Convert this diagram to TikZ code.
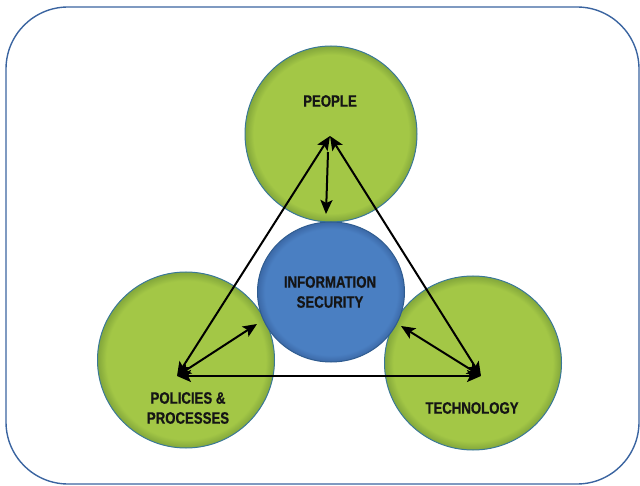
\documentclass[tikz,border=0pt]{standalone}
\usepackage{fontspec}
\setmainfont{Liberation Sans}[FakeStretch=0.8, BoldFeatures={FakeBold=0.7}]
\usetikzlibrary{shapes.geometric,arrows.meta}
\definecolor{gfill}{HTML}{A3C746}
\definecolor{grim}{HTML}{86AA3C}
\definecolor{gline}{HTML}{3A7897}
\definecolor{bfill}{HTML}{4A7FC2}
\definecolor{brim}{HTML}{3D6BAA}
\definecolor{bline}{HTML}{2F5C90}
\definecolor{frame}{HTML}{3A64A0}
\definecolor{txt}{HTML}{151515}
\pgfdeclareradialshading{greenball}{\pgfpoint{0bp}{0bp}}{color(0bp)=(gfill); color(22.5bp)=(gfill); color(24.7bp)=(grim); color(50bp)=(grim)}
\pgfdeclareradialshading{blueball}{\pgfpoint{0bp}{0bp}}{color(0bp)=(bfill); color(22.5bp)=(bfill); color(24.7bp)=(brim); color(50bp)=(brim)}
\tikzset{
  gball/.style={ellipse, inner sep=0pt, shading=greenball, draw=gline, line width=1pt},
  bball/.style={ellipse, inner sep=0pt, shading=blueball, draw=bline, line width=1pt},
  lbl/.style={font=\bfseries\fontsize{16.5}{20}\selectfont, text=txt, align=center, inner sep=0pt},
  link/.style={line width=2pt, black, {Stealth[length=14pt,width=12pt,inset=3pt]}-{Stealth[length=14pt,width=12pt,inset=3pt]}},
  onelink/.style={line width=2pt, black, -{Stealth[length=14pt,width=12pt,inset=3pt]}}
}
\begin{document}
\begin{tikzpicture}[x=1pt,y=-1pt]
\useasboundingbox (0,0) rectangle (640,486);
\draw[frame, line width=1.4pt, rounded corners=62pt] (6,7) rectangle (639,484);
% circles
\node[gball, minimum width=172pt, minimum height=176pt] (people) at (331,134) {};
\node[gball, minimum width=177pt, minimum height=176pt] (policies) at (186,360) {};
\node[gball, minimum width=177pt, minimum height=174pt] (tech) at (473,363) {};
\node[bball, minimum width=147pt, minimum height=140pt] (info) at (331,292) {};
% labels
\node[lbl] (tpeople) at (330,101) {PEOPLE};
\node[lbl] (tinfo) at (330,292) {INFORMATION\\SECURITY};
\node[lbl] (tpol) at (188,408) {POLICIES \&\\PROCESSES};
\node[lbl] (ttech) at (472,408) {TECHNOLOGY};
% connector points
\coordinate (pv) at (330,136);
\coordinate (lv) at (177,376);
\coordinate (tv) at (481,376);
\coordinate (ps) at (328,152);
\coordinate (pi) at (326,214);
\coordinate (li) at (257,324);
\coordinate (ti) at (401,326);
% connectors
\draw[link] (pv) -- (lv);
\draw[link] (pv) -- (tv);
\draw[link] (lv) -- (tv);
\draw[onelink] (ps) -- (pi);
\draw[link] (lv) -- (li);
\draw[link] (tv) -- (ti);
\end{tikzpicture}
\end{document}
